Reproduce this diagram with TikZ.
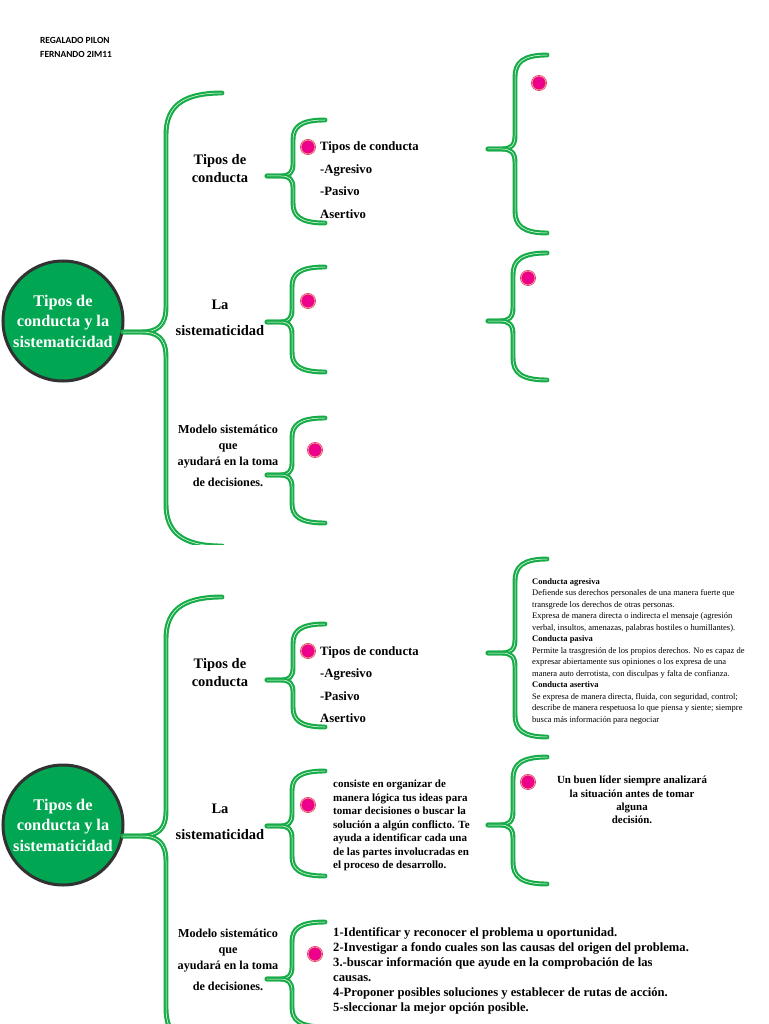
\documentclass[tikz,border=0pt]{standalone}
\usepackage{fontspec}
\setmainfont{Liberation Serif}
\newfontfamily\namefont{Carlito}
\usetikzlibrary{positioning,calc}
\definecolor{hubgreen}{RGB}{0,166,81}
\definecolor{bracegreen}{RGB}{24,172,72}
\definecolor{dotred}{RGB}{232,40,90}
\definecolor{hubrim}{RGB}{50,50,50}

% left curly brace: stem x, spine x, top y, middle y, bottom y, tip x, curl
\newcommand{\curlybr}[7]{%
  \draw[brc] (#1,#4) -- (#2-0.6*#7,#4)
    .. controls (#2-0.2*#7,#4) and (#2,#4-0.15*#7) .. (#2,#4-0.6*#7)
    -- (#2,#3+#7)
    .. controls (#2,#3+0.35*#7) and (#2+0.35*#7,#3) .. (#6,#3);
  \draw[brc] (#1,#4) -- (#2-0.6*#7,#4)
    .. controls (#2-0.2*#7,#4) and (#2,#4+0.15*#7) .. (#2,#4+0.6*#7)
    -- (#2,#5-#7)
    .. controls (#2,#5-0.35*#7) and (#2+0.35*#7,#5) .. (#6,#5);
}

\begin{document}
\begin{tikzpicture}[x=1pt, y=-1pt,
    hub/.style={circle, minimum size=120pt, inner sep=0, fill=hubgreen, draw=hubrim,
      line width=3pt, text=white, align=center, font=\bfseries\fontsize{16.3}{20.5}\selectfont},
    brc/.style={draw=bracegreen, double=white, double distance=0.5pt, line width=2.2pt, line cap=round},
    dot/.style={circle, inner sep=0, minimum size=14pt, fill=magenta, draw=dotred,
      double=white!80!dotred, double distance=0.4pt, line width=0.7pt},
    lbl/.style={align=center, inner sep=0, font=\bfseries\fontsize{14.5}{18}\selectfont},
    item/.style={anchor=base west, inner sep=0, font=\bfseries\fontsize{12.7}{15}\selectfont},
    para/.style={anchor=north west, align=left, inner sep=0},
  ]
  \useasboundingbox (0,0) rectangle (768,1024);

  % author
  \node[anchor=west, inner sep=0, font=\namefont\bfseries\fontsize{9.4}{11}\selectfont] (autor) at (40,40) {REGALADO PILON};
  \node[anchor=west, inner sep=0, font=\namefont\bfseries\fontsize{9.4}{11}\selectfont] (grupo) at (40,54) {FERNANDO 2IM11};

  % both sheets share the same map; the first one is cut off at its bottom
  \foreach \pg/\dy/\ya/\yb in {1/504/0/544,2/0/544/1024}{
    \begin{scope}
      \clip (0,\ya) rectangle (768,\yb);
      \begin{scope}[yshift=\dy pt]
        \node[hub] (hub\pg) at (63,825) {Tipos de\\conducta y la\\sistematicidad};
        \curlybr{123}{166}{597}{836}{1050}{222}{42}
        \node[lbl] (tipos\pg) at (220,673) {Tipos de\\conducta};
        \node[lbl, font=\bfseries\fontsize{14.5}{26}\selectfont] (siste\pg) at (220,821.5) {La\\sistematicidad};
        \node[lbl, font=\bfseries\fontsize{12.2}{16}\selectfont] (modelo\pg) at (228,960)
          {Modelo sistemático\\que\\ayudará en la toma\\[5pt]de decisiones.};
        \curlybr{267}{293}{624}{680}{727}{325}{20}
        \curlybr{267}{292}{771}{826}{876}{325}{20}
        \curlybr{267}{292}{922}{979}{1027}{325}{20}
        \curlybr{488}{515}{559}{653}{737}{547}{22}
        \curlybr{488}{513}{757}{825}{884}{547}{22}
        \node[dot] (dotA\pg) at (308,651) {};
        \node[dot] (dotB\pg) at (308,805) {};
        \node[dot] (dotC\pg) at (315,954) {};
        \node[dot] (dotE\pg) at (528,782) {};
        \ifnum\pg=1 \node[dot] (dotD\pg) at (539,587) {}; \fi
        \foreach \t [count=\i from 0] in {Tipos de conducta,-Agresivo,-Pasivo,Asertivo}
          \node[item] (tl\pg-\i) at (320,655+22.5*\i) {\t};
      \end{scope}
    \end{scope}
  }

  % texts of the second sheet
  \node[para, font=\fontsize{8.5}{11.5}\selectfont] (defs) at (532,578) {\textbf{Conducta agresiva}\\
    Defiende sus derechos personales de una manera fuerte que\\
    transgrede los derechos de otras personas.\\
    Expresa de manera directa o indirecta el mensaje (agresión\\
    verbal, insultos, amenazas, palabras hostiles o humillantes).\\
    \textbf{Conducta pasiva}\\
    Permite la trasgresión de los propios derechos. No es capaz de\\
    expresar abiertamente sus opiniones o los expresa de una\\
    manera auto derrotista, con disculpas y falta de confianza.\\
    \textbf{Conducta asertiva}\\
    Se expresa de manera directa, fluida, con seguridad, control;\\
    describe de manera respetuosa lo que piensa y siente; siempre\\
    busca más información para negociar};
  \node[para, font=\bfseries\fontsize{11}{13.5}\selectfont] (sistdef) at (333,780) {consiste en organizar de\\
    manera lógica tus ideas para\\
    tomar decisiones o buscar la\\
    solución a algún conflicto. Te\\
    ayuda a identificar cada una\\
    de las partes involucradas en\\
    el proceso de desarrollo.};
  \node[anchor=north, align=center, inner sep=0, font=\bfseries\fontsize{10.9}{13.3}\selectfont] (lider) at (632,776)
    {Un buen líder siempre analizará\\la situación antes de tomar\\alguna\\decisión.};
  \node[para, font=\bfseries\fontsize{12.6}{15}\selectfont] (pasos) at (333,927) {1-Identificar y reconocer el problema u oportunidad.\\
    2-Investigar a fondo cuales son las causas del origen del problema.\\
    3.-buscar información que ayude en la comprobación de las\\
    causas.\\
    4-Proponer posibles soluciones y establecer de rutas de acción.\\
    5-sleccionar la mejor opción posible.};
\end{tikzpicture}
\end{document}
